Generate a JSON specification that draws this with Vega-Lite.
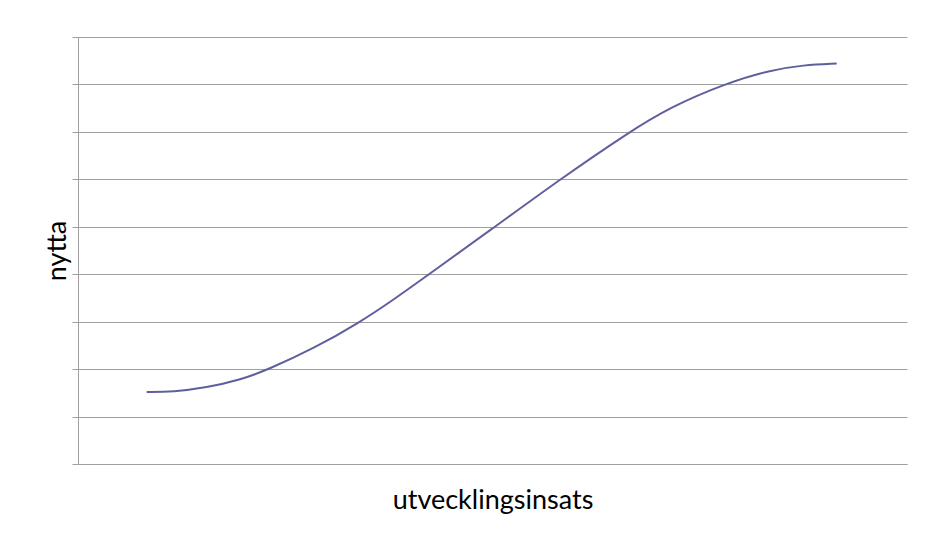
{
  "$schema": "https://vega.github.io/schema/vega-lite/v6.json",
  "width": 829,
  "height": 427,
  "autosize": {"type": "none"},
  "padding": {"left": 78, "top": 37, "right": 18, "bottom": 79},
  "background": "white",
  "config": {
    "view": {"stroke": null},
    "font": "Lato"
  },
  "data": {
    "values": [
      {"insats": 8.29, "nytta": 1.52},
      {"insats": 11.46, "nytta": 1.52},
      {"insats": 15.52, "nytta": 1.61},
      {"insats": 19.54, "nytta": 1.77},
      {"insats": 22.92, "nytta": 1.99},
      {"insats": 28.5, "nytta": 2.44},
      {"insats": 34.02, "nytta": 2.99},
      {"insats": 38.03, "nytta": 3.46},
      {"insats": 42.18, "nytta": 3.98},
      {"insats": 50.3, "nytta": 5.0},
      {"insats": 58.14, "nytta": 6.0},
      {"insats": 66.34, "nytta": 6.98},
      {"insats": 71.41, "nytta": 7.52},
      {"insats": 78.25, "nytta": 8.03},
      {"insats": 83.5, "nytta": 8.3},
      {"insats": 87.49, "nytta": 8.41},
      {"insats": 91.52, "nytta": 8.44}
    ]
  },
  "mark": {"type": "line", "color": "#5f5f9d", "strokeWidth": 2, "interpolate": "basis"},
  "encoding": {
    "x": {
      "field": "insats",
      "type": "quantitative",
      "scale": {"domain": [0, 100], "nice": false, "zero": false},
      "axis": {
        "title": "utvecklingsinsats",
        "labels": false,
        "ticks": false,
        "grid": false,
        "domainColor": "#a0a0a0",
        "domainWidth": 1,
        "titleFont": "Lato",
        "titleFontSize": 27,
        "titleFontWeight": "normal",
        "titleColor": "black",
        "titlePadding": 23
      }
    },
    "y": {
      "field": "nytta",
      "type": "quantitative",
      "scale": {"domain": [0, 9], "nice": false, "zero": true},
      "axis": {
        "title": "nytta",
        "values": [0, 1, 2, 3, 4, 5, 6, 7, 8, 9],
        "labels": false,
        "ticks": true,
        "tickSize": 6,
        "tickColor": "#a0a0a0",
        "grid": true,
        "gridColor": "#a0a0a0",
        "gridWidth": 1,
        "domainColor": "#a0a0a0",
        "domainWidth": 1,
        "titleFont": "Lato",
        "titleFontSize": 27,
        "titleFontWeight": "normal",
        "titleColor": "black",
        "titlePadding": 0
      }
    }
  }
}
